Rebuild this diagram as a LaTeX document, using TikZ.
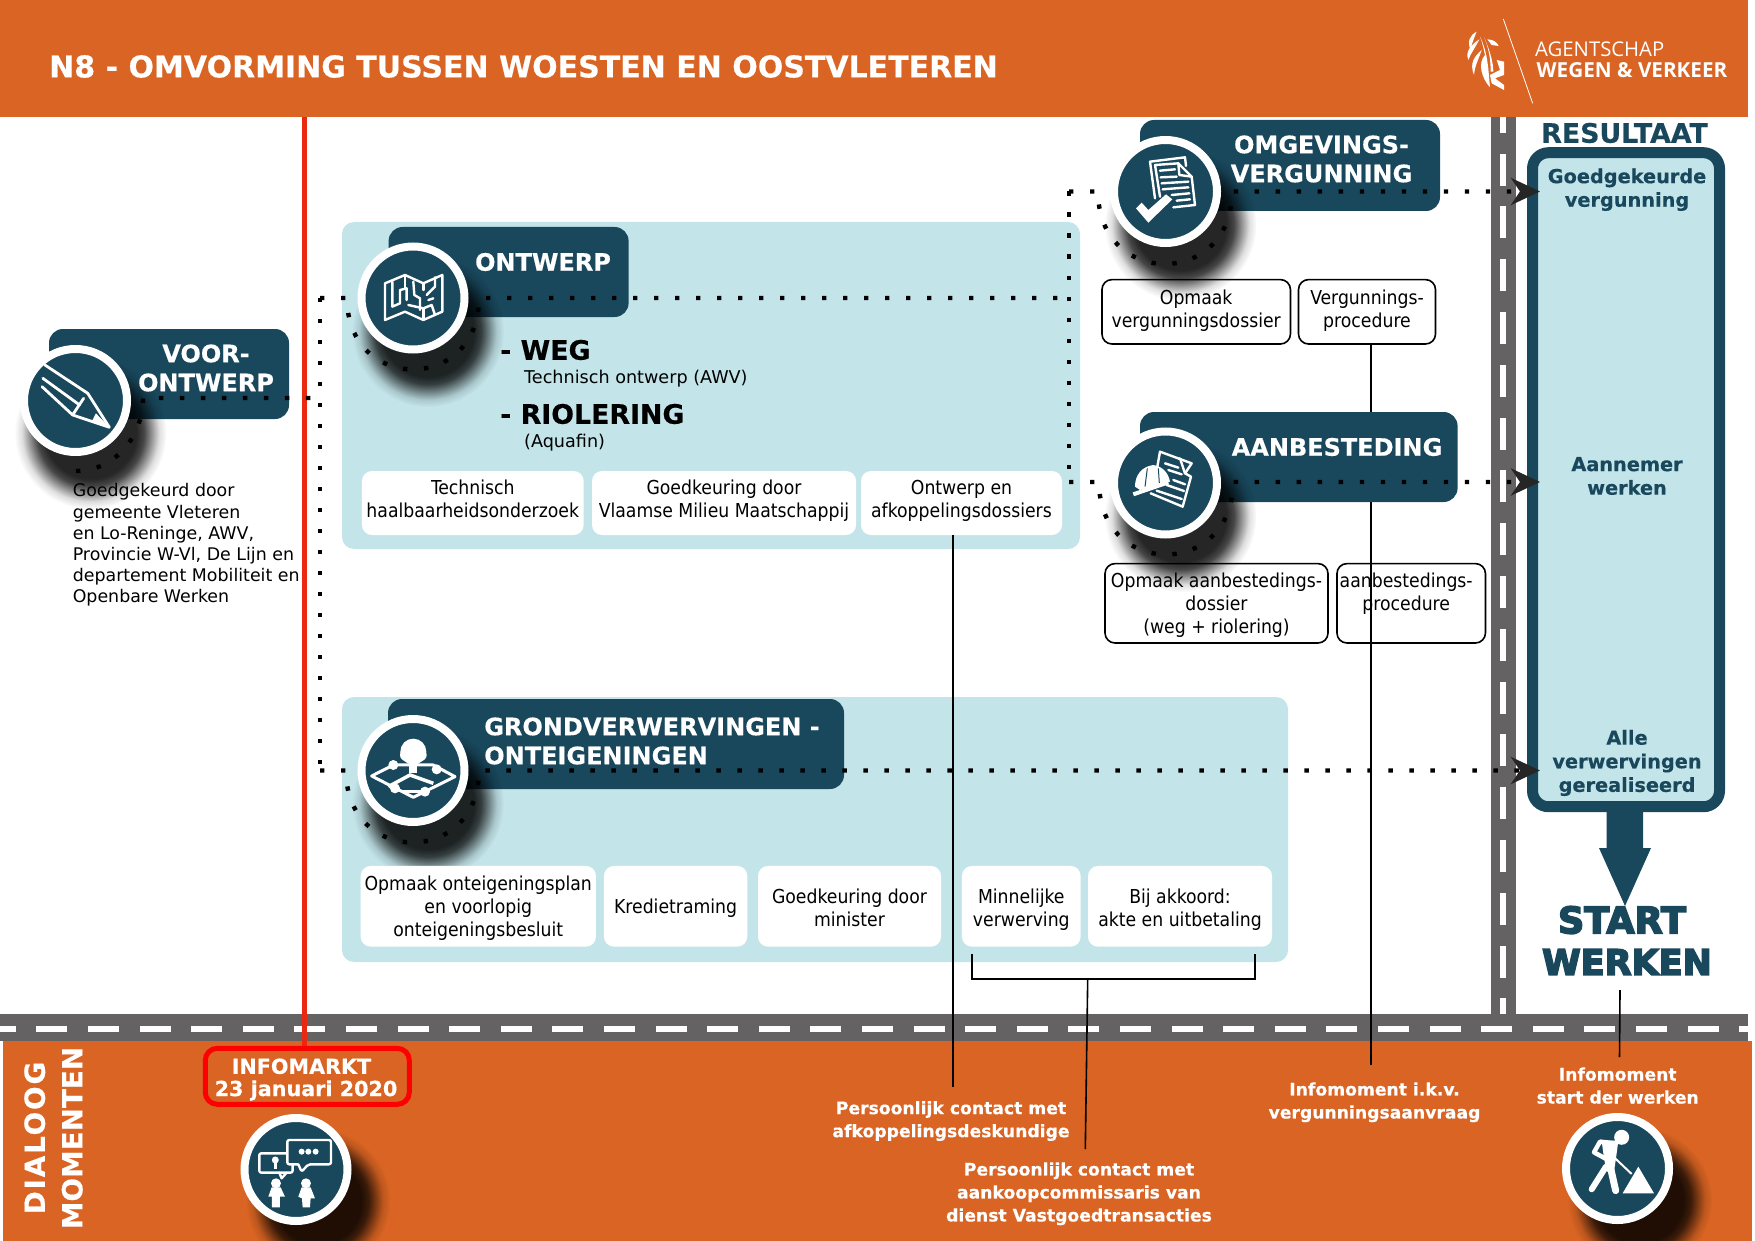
\documentclass[tikz,border=0pt]{standalone}
\usepackage{fontspec}
\setmainfont[BoldFeatures={FakeBold=0.4}]{DejaVu Sans}
\newfontfamily\boxfont{DejaVu Sans Condensed}
\newfontfamily\logofont{Open Sans}
\newfontfamily\startfont[BoldFeatures={FakeBold=4.5}]{DejaVu Sans}
\usetikzlibrary{arrows.meta,fadings}
\definecolor{roadorange}{HTML}{D96423}
\definecolor{darkblue}{HTML}{19475C}
\definecolor{paleblue}{HTML}{C3E5EA}
\definecolor{roadgrey}{HTML}{656263}
\definecolor{redline}{HTML}{EA2A10}
\pgfdeclareradialshading{softdiscshade}{\pgfpointorigin}{color(0bp)=(white);color(15bp)=(white);color(17.5bp)=(white!85!black);color(20bp)=(white!50!black);color(22.5bp)=(white!15!black);color(25bp)=(black);color(50bp)=(black)}
\pgfdeclarefading{softdisc}{\pgfuseshading{softdiscshade}}
\newcommand{\boxlines}[2][0pt]{\raisebox{\dimexpr #1-4.8pt\relax}[0pt][0pt]{\begin{tabular}{@{}c@{}}#2\end{tabular}}}

\begin{document}
\begin{tikzpicture}[x=1pt,y=-1pt]
        \tikzset{panel/.style = {fill=paleblue,rounded corners=12pt,inner sep=0pt}};
        \tikzset{tagbox/.style = {fill=darkblue,rounded corners=14pt,inner sep=0pt}};
        \tikzset{icondisc/.style = {shape=circle,fill=darkblue,draw=white,line width=8pt,minimum size=103pt,inner sep=0pt}};
        \tikzset{softshadow/.style = {fill=black,fill opacity=0.85,path fading=softdisc}};
        \tikzset{tagtext/.style = {text=white,align=center,font=\fontsize{24}{29}\selectfont\bfseries,inner sep=0pt}};
        \tikzset{whitebox/.style = {fill=white,rounded corners=10pt,inner sep=0pt,font=\fontsize{19.2}{23}\selectfont\boxfont}};
        \tikzset{linebox/.style = {draw=black,line width=1.6pt,rounded corners=10pt,inner sep=0pt,font=\fontsize{19.2}{23}\selectfont\boxfont}};
        \tikzset{resulttext/.style = {text=darkblue,align=center,font=\fontsize{19.3}{23.6}\selectfont\bfseries,inner sep=0pt}};
        \tikzset{momenttext/.style = {text=white,align=center,font=\fontsize{17.2}{23}\selectfont\bfseries,inner sep=0pt}};
        \tikzset{plaintext/.style = {align=left,anchor=west,inner sep=0pt}};
        \tikzset{edge/.style = {draw=black,line width=1.6pt}};
        \tikzset{dotline/.style = {draw=black,line width=4.4pt,dash pattern=on 4.4pt off 16.6pt}};
        \tikzset{dotarrow/.style = {dotline,-{Stealth[length=29pt,width=27pt,inset=9pt,black!85]}}};
        \tikzset{iconline/.style = {draw=white,line width=2.4pt,line join=round,line cap=round}};
        \useasboundingbox (0,0) rectangle (1755,1241);

        \fill[roadorange] (3,1041) rectangle (1752,1240.7);
        \fill[roadgrey] (1490.7,116) rectangle (1515.7,1014);
        \foreach \y in {0,...,17} \fill[white] (1500,{100.8+52.8*\y}) rectangle ++(6,32);
        \fill[roadgrey] (0,1014) rectangle (1748,1041);
        \foreach \x in {0,...,34} \fill[white] ({-15.3+51.6*\x},1025.7) rectangle ++(31,6);
        \node[fill=roadorange,minimum width=1748pt,minimum height=117pt,inner sep=0pt,anchor=north west] (topband) at (0,0) {};

        \node[panel,minimum width=738pt,minimum height=327pt] (ontwerppanel) at (711,385.5) {};
        \node[panel,minimum width=946pt,minimum height=265pt] (grondpanel) at (815,829.5) {};

        \coordinate (contactend) at (952.7,1087);
        \coordinate (vergend) at (1370.7,1064.7);
        \coordinate (startline) at (1620,990);
        \coordinate (startlineend) at (1619.5,1057);
        \coordinate (redtop) at (304.5,117);
        \coordinate (redend) at (304.5,1047);
        \draw[draw=redline,line width=5.6pt] (redtop) -- (redend);

        \node[linebox,minimum width=137pt,minimum height=64.4pt] (vergproc) at (1367,311.8) {\boxlines[0.5pt]{Vergunnings-\\procedure}};
        \draw[edge] (vergproc.south -| vergend) -- (vergend);

        \node[tagbox,minimum width=240pt,minimum height=90pt] (voortag) at (169,374) {};
        \node[tagbox,minimum width=240pt,minimum height=90pt] (ontwerptag) at (508.6,272) {};
        \node[tagbox,minimum width=300pt,minimum height=91pt] (omgtag) at (1290,165.5) {};
        \node[tagbox,minimum width=317.6pt,minimum height=90pt] (aanbtag) at (1298.8,457) {};
        \node[tagbox,minimum width=456pt,minimum height=90pt] (grondtag) at (616,744) {};

        \fill[softshadow] (90.5,433) circle (76pt);
        \fill[softshadow] (428,331) circle (76pt);
        \fill[softshadow] (1180.5,224.5) circle (76pt);
        \fill[softshadow] (1180.5,516) circle (76pt);
        \fill[softshadow] (428,803.5) circle (76pt);
        \fill[softshadow] (318,1201) circle (72pt);
        \fill[softshadow] (1640,1200) circle (72pt);

        \node[icondisc] (voorc) at (75.5,400.5) {};
        \node[icondisc] (ontwerpc) at (413,298) {};
        \node[icondisc] (omgc) at (1165.5,191.5) {};
        \node[icondisc] (aanbc) at (1165.5,483) {};
        \node[icondisc] (grondc) at (413,770.5) {};
        \node[icondisc] (infoc) at (296,1169.5) {};
        \node[icondisc] (startc) at (1617.5,1168.5) {};

        \node[tagtext] (voortext) at (206,368) {VOOR-\\ONTWERP};
        \node[tagtext] (ontwerptext) at (543,262) {ONTWERP};
        \node[tagtext] (omgtext) at (1321.5,159) {OMGEVINGS-\\VERGUNNING};
        \node[tagtext] (aanbtext) at (1337,447) {AANBESTEDING};
        \node[tagtext,align=left] (grondtext) at (652,741) {GRONDVERWERVINGEN -\\ONTEIGENINGEN};

        \node[whitebox,minimum width=221.7pt,minimum height=64pt] (haalb) at (472.8,503) {\boxlines[1.1pt]{Technisch\\haalbaarheidsonderzoek}};
        \node[whitebox,minimum width=264pt,minimum height=64pt] (vmm) at (724,503) {\boxlines[1.1pt]{Goedkeuring door\\Vlaamse Milieu Maatschappij}};
        \node[whitebox,minimum width=201pt,minimum height=64pt] (afkop) at (961.5,503) {\boxlines[1.1pt]{Ontwerp en\\afkoppelingsdossiers}};
        \node[whitebox,minimum width=235.3pt,minimum height=80.7pt] (opmaakplan) at (478.3,906.3) {\boxlines[-2.7pt]{Opmaak onteigeningsplan\\en voorlopig\\onteigeningsbesluit}};
        \node[whitebox,minimum width=143.3pt,minimum height=80.7pt] (krediet) at (675.6,906.3) {\boxlines[-3.3pt]{Kredietraming}};
        \node[whitebox,minimum width=183pt,minimum height=80.7pt] (minister) at (849.5,906.3) {\boxlines[-4pt]{Goedkeuring door\\minister}};
        \node[whitebox,minimum width=118.7pt,minimum height=80.7pt] (minnelijk) at (1021.3,906.3) {\boxlines[-4pt]{Minnelijke\\verwerving}};
        \node[whitebox,minimum width=184pt,minimum height=80.7pt] (akkoord) at (1180,906.3) {\boxlines[-4pt]{Bij akkoord:\\akte en uitbetaling}};
        \draw[edge] (afkop.south -| contactend) -- (contactend);

        \node[linebox,minimum width=188.5pt,minimum height=64.4pt] (vergdos) at (1196.2,311.8) {\boxlines[0.5pt]{Opmaak\\vergunningsdossier}};
        \node[linebox,minimum width=223pt,minimum height=79.4pt] (aanbdos) at (1216.5,603.3) {\boxlines[-3.3pt]{Opmaak aanbestedings-\\dossier\\(weg + riolering)}};
        \node[linebox,minimum width=148.5pt,minimum height=79.4pt] (aanbproc) at (1411.2,603.3) {\boxlines[-3.3pt]{aanbestedings-\hspace*{10pt}\\procedure\hspace*{10pt}\\\mbox{}}};
        \draw[edge] (aanbtag.south -| vergend) -- (aanbproc.south -| vergend);

        \coordinate (brackl) at (972,954);
        \coordinate (brackr) at (1255,954);
        \coordinate (bracklb) at (972,979);
        \coordinate (brackrb) at (1255,979);
        \coordinate (brackmid) at (1087.7,979);
        \coordinate (aankoopend) at (1085.3,1149);
        \draw[edge] (brackl) -- (bracklb) -- (brackrb) -- (brackr);
        \draw[edge] (brackmid) -- (aankoopend);
        \draw[edge] (startline) -- (startlineend);

        \node[plaintext,font=\fontsize{26.8}{30}\selectfont\bfseries] (weg) at (500,350) {- WEG};
        \node[plaintext,font=\fontsize{17.6}{20}\selectfont] (wegsub) at (524,379) {Technisch ontwerp (AWV)};
        \node[plaintext,font=\fontsize{26.8}{30}\selectfont\bfseries] (riol) at (500,414) {- RIOLERING};
        \node[plaintext,font=\fontsize{17.6}{20}\selectfont] (riolsub) at (524,442.5) {(Aquafin)};
        \node[plaintext,font=\fontsize{17.4}{21.2}\selectfont] (goedk) at (72.6,545) {Goedgekeurd door\\gemeente Vleteren\\en Lo-Reninge, AWV,\\Provincie W-Vl, De Lijn en\\departement Mobiliteit en\\Openbare Werken};

        \node[plaintext,text=white,font=\fontsize{30}{34}\selectfont\bfseries] (titel) at (49,66.5) {N8 - OMVORMING TUSSEN WOESTEN EN OOSTVLETEREN};

        \node[draw=darkblue,fill=paleblue,line width=11pt,rounded corners=16pt,minimum width=187pt,minimum height=654pt,inner sep=0pt] (resbox) at (1626,479.7) {};
        \node[text=darkblue,inner sep=0pt,font=\fontsize{26.8}{30}\selectfont\bfseries] (resultaat) at (1624.5,133) {RESULTAAT};
        \node[resulttext] (res1) at (1627,189.7) {Goedgekeurde\\vergunning};
        \node[resulttext] (res2) at (1627,476) {Aannemer\\werken};
        \node[resulttext] (res3) at (1627,763) {Alle\\verwervingen\\gerealiseerd};
        \fill[darkblue] (1606.7,808) -- (1606.7,848) -- (1599,848) -- (1625,906) -- (1651,848) -- (1643,848) -- (1643,808) -- cycle;
        \node[text=darkblue,align=center,inner sep=0pt,font=\fontsize{35}{41.5}\selectfont\startfont\bfseries] (startw) at (1627,940.5) {{\fontsize{36.5}{41.5}\selectfont START}\hspace*{10pt}\\WERKEN};

        \node[draw=red,line width=5pt,rounded corners=12pt,minimum width=204pt,minimum height=56pt,inner sep=0pt] (infobox) at (307.3,1076.3) {};
        \node[text=white,align=center,inner sep=0pt,font=\fontsize{20.7}{22.2}\selectfont\bfseries] (infotext) at (303.5,1079.5) {INFOMARKT\hspace*{4pt}\\\hspace*{5pt}23 januari 2020};
        \node[text=white,align=center,inner sep=0pt,rotate=90,font=\fontsize{27.8}{37.5}\selectfont\bfseries] (dialoog) at (53.5,1138) {{\addfontfeatures{LetterSpace=6.5}DIALOOG}\\MOMENTEN};
        \node[momenttext] (m1) at (951,1121) {Persoonlijk contact met\\afkoppelingsdeskundige};
        \node[momenttext] (m2) at (1079,1193.8) {Persoonlijk contact met\\aankoopcommissaris van\\dienst Vastgoedtransacties};
        \node[momenttext] (m3) at (1374.5,1102.3) {Infomoment i.k.v.\\vergunningsaanvraag};
        \node[momenttext] (m4) at (1617.7,1085.6) {Infomoment\\start der werken};

        \coordinate (trunktop) at (320,298);
        \coordinate (trunkbot) at (320,770.5);
        \coordinate (voora) at (76,471);
        \coordinate (voorb) at (143,398);
        \coordinate (voore) at (320,398);
        \coordinate (ontl) at (347,298);
        \coordinate (ontr) at (479,298);
        \coordinate (junctop) at (1069,191.5);
        \coordinate (junc) at (1069,298);
        \coordinate (juncbot) at (1069,482);
        \coordinate (omgl) at (1098,191.5);
        \coordinate (omgr) at (1232,191.5);
        \coordinate (omgend) at (1540,191.5);
        \coordinate (aanbl) at (1099,482);
        \coordinate (aanbr) at (1233,482);
        \coordinate (aanbend) at (1540,482);
        \coordinate (grondl) at (346,770.5);
        \coordinate (grondr) at (479,770.5);
        \coordinate (grondend) at (1540,770.5);
        \draw[dotline] (voora) to[out=0,in=-90] (voorb) -- (voore);
        \draw[dotline] (trunktop) -- (trunkbot);
        \draw[dotline] (trunktop) -- (ontl) to[out=-90,in=-90,looseness=1.85] (ontr) -- (junc);
        \draw[dotline] (junctop) -- (juncbot);
        \draw[dotarrow] (junctop) -- (omgl) to[out=-90,in=-90,looseness=1.85] (omgr) -- (omgend);
        \draw[dotarrow] (juncbot) -- (aanbl) to[out=-90,in=-90,looseness=1.85] (aanbr) -- (aanbend);
        \draw[dotarrow] (trunkbot) -- (grondl) to[out=-90,in=-90,looseness=1.85] (grondr) -- (grondend);

        \begin{scope}[shift={(0,100)},x=0.408pt,y=-0.3333pt]
            \draw[iconline,line width=2.8pt] (110,795) -- (215,880) -- (268,982) -- (178,945) -- (103,860);
            \draw[iconline,line width=2.8pt] (105,835) -- (195,915);
            \draw[iconline,line width=2.8pt] (205,895) -- (178,945);
            \fill[white] (235,940) -- (268,982) -- (225,965) -- cycle;
        \end{scope}
        \begin{scope}[shift={(355,240)},x=0.3333pt,y=-0.3333pt]
            \draw[iconline] (90,130) -- (150,105) -- (205,130) -- (262,105) -- (262,215) -- (205,240) -- (150,215) -- (90,240) -- cycle;
            \draw[iconline] (112,125) -- (112,200) -- (135,190) -- (135,150) -- (155,145) -- (155,180);
            \draw[iconline] (150,105) -- (150,145);
            \draw[iconline] (175,125) -- (178,165) -- (195,175) -- (195,210);
            \draw[iconline] (160,195) -- (205,205) -- (230,195) -- (240,225);
            \draw[iconline] (215,165) -- (240,140) -- (240,112);
            \draw[iconline] (205,130) -- (205,150);
            \draw[iconline] (205,205) -- (205,238);
            \draw[iconline] (220,180) -- (235,175);
        \end{scope}
        \begin{scope}[shift={(1110,130)},x=0.3333pt,y=-0.3333pt]
            \draw[iconline] (135,205) -- (120,95) -- (225,82) -- (228,108);
            \draw[iconline] (150,200) -- (135,105) -- (205,100) -- (245,140) -- (255,225) -- (190,232);
            \draw[iconline] (205,100) -- (208,135) -- (245,140);
            \draw[iconline] (150,122) -- (195,118);
            \draw[iconline] (152,142) -- (200,140);
            \draw[iconline] (155,160) -- (235,155);
            \draw[iconline] (158,178) -- (235,172);
            \draw[iconline] (185,195) -- (238,190);
            \draw[iconline] (200,212) -- (240,208);
            \fill[white] (78,235) -- (115,278) -- (187,208) -- (168,193) -- (115,240) -- (95,218) -- cycle;
        \end{scope}
        \begin{scope}[shift={(1110,425)},x=0.3333pt,y=-0.3333pt]
            \draw[iconline] (142,125) -- (150,80) -- (245,115) -- (225,145) -- (243,155) -- (218,245) -- (122,205);
            \draw[iconline] (210,100) -- (225,145);
            \draw[iconline] (165,115) -- (205,128);
            \draw[iconline] (175,135) -- (215,148);
            \draw[iconline] (190,165) -- (225,178);
            \draw[iconline] (170,180) -- (222,198);
            \draw[iconline] (140,197) -- (215,222);
            \fill[white] (75,185) .. controls (75,150) and (95,125) .. (130,120) .. controls (160,125) and (175,145) .. (180,170) -- (90,195) -- cycle;
            \draw[draw=darkblue,line width=1pt] (112,130) -- (105,185);
            \draw[draw=darkblue,line width=1pt] (145,130) -- (148,175);
            \draw[draw=white,line width=4pt] (70,208) -- (175,172);
        \end{scope}
        \begin{scope}[shift={(330,690)},x=0.3333pt,y=-0.3333pt]
            \fill[white] (250,185) circle (13pt);
            \fill[white] (228,195) circle (6pt);
            \fill[white] (272,195) circle (6pt);
            \fill[white] (238,210) rectangle (262,250);
            \draw[draw=white,line width=3pt,line join=round] (125,258) -- (190,225) -- (310,225) -- (375,260) -- (250,322) -- cycle;
            \fill[white] (190,225) circle (5pt);
            \fill[white] (320,238) circle (5pt);
            \fill[white] (195,295) circle (5pt);
            \fill[white] (285,305) circle (5pt);
            \draw[draw=white,line width=3.5pt] (175,290) -- (240,255) -- (310,280);
            \draw[draw=white,line width=3.5pt] (215,305) -- (285,305);
        \end{scope}
        \begin{scope}[shift={(0,980)},x=0.3333pt,y=-0.3333pt]
            \draw[iconline,rounded corners=2pt] (778,520) rectangle (878,578);
            \fill[darkblue] (862,480) rectangle (993,553);
            \draw[iconline,rounded corners=2pt] (895,553) -- (862,553) -- (862,480) -- (993,480) -- (993,553) -- (925,553) -- (905,575) -- (895,553);
            \draw[iconline] (838,578) -- (845,595) -- (860,578);
            \fill[white] (905,515) circle (3pt);
            \fill[white] (925,515) circle (3pt);
            \fill[white] (947,515) circle (3pt);
            \fill[white] (826,540) circle (3.5pt);
            \fill[white] (821,545) rectangle (831,568);
            \fill[white] (828,610) circle (5pt);
            \fill[white] (918,610) circle (5pt);
            \fill[white] (805,650) -- (815,622) -- (842,622) -- (855,650) -- (840,650) -- (840,682) -- (816,682) -- (816,650) -- cycle;
            \fill[white] (895,650) -- (905,622) -- (932,622) -- (945,655) -- (932,655) -- (930,682) -- (908,682) -- (906,655) -- cycle;
        \end{scope}
        \begin{scope}[shift={(1450,780)},x=0.3333pt,y=-0.3333pt]
            \fill[white] (515,1072) circle (7.5pt);
            \draw[draw=white,line width=4.5pt,line cap=round,line join=round] (495,1090) -- (450,1085) -- (432,1117) -- (465,1135);
            \fill[white] (455,1082) -- (505,1082) -- (498,1135) -- (492,1175) -- (470,1175) -- (462,1135) -- cycle;
            \draw[draw=white,line width=6pt,line cap=round,line join=round] (468,1160) -- (425,1228);
            \draw[draw=white,line width=7pt,line cap=round,line join=round] (482,1165) -- (497,1232);
            \draw[draw=white,line width=2pt] (490,1130) -- (545,1182);
            \fill[white] (565,1160) -- (612,1240) -- (518,1240) -- cycle;
        \end{scope}

        \begin{scope}[shift={(1400,0)},x=0.3333pt,y=-0.3333pt]
            \draw[draw=white,line width=0.8pt] (310,57) -- (398,310);
            \fill[white] (230,95) .. controls (210,105) and (200,125) .. (212,150) .. controls (215,130) and (222,115) .. (230,95) -- cycle;
            \fill[white] (238,118) .. controls (212,135) and (195,155) .. (205,180) .. controls (212,160) and (225,145) .. (238,118) -- cycle;
            \fill[white] (245,150) .. controls (222,170) and (208,190) .. (222,225) .. controls (225,195) and (235,180) .. (245,150) -- cycle;
            \fill[white] (240,110) .. controls (265,160) and (265,215) .. (270,262) .. controls (245,235) and (232,190) .. (255,165) .. controls (250,145) and (248,130) .. (240,110) -- cycle;
            \fill[white] (262,118) .. controls (280,118) and (292,128) .. (296,138) -- (275,135) -- cycle;
            \fill[white] (290,180) -- (312,185) -- (312,225) -- (285,235) -- (312,255) -- (312,270) -- (275,250) -- (270,225) -- (300,210) -- cycle;
            \fill[white] (252,112) .. controls (270,150) and (280,190) .. (280,215) -- (272,215) .. controls (272,175) and (265,140) .. (252,112) -- cycle;
        \end{scope}
        \node[plaintext,text=white,font=\fontsize{20.3}{24}\selectfont\logofont] (logo1) at (1535,49) {AGENTSCHAP};
        \node[plaintext,text=white,font=\fontsize{20.7}{24}\selectfont\logofont\bfseries] (logo2) at (1536.5,70) {WEGEN \& VERKEER};
    \end{tikzpicture}
\end{document}
